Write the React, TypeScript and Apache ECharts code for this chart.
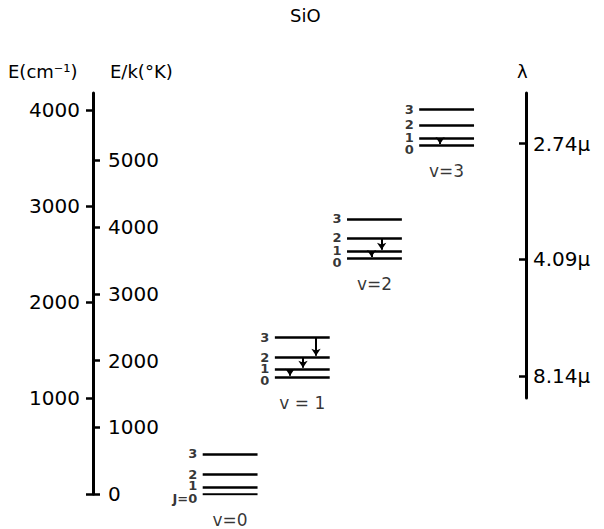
import React, { useEffect, useRef } from "react";
import * as echarts from "echarts";

// ---- data ----
const vibLabels = ["v=0", "v = 1", "v=2", "v=3"];
const jLabels = ["0", "1", "2", "3"];
const levelsV0 = [0, 73, 208, 417];
const levelsV1 = [1219, 1302, 1427, 1635];
const levelsV2 = [2458, 2531, 2667, 2865];
const levelsV3 = [3635, 3708, 3844, 4010];
const levels = [levelsV0, levelsV1, levelsV2, levelsV3];
// transitions: [v, upper J, lower J]
const transitions = [
  [1, 3, 2],
  [1, 2, 1],
  [1, 1, 0],
  [2, 2, 1],
  [2, 1, 0],
  [3, 1, 0],
];
const cmTickValues = [0, 1000, 2000, 3000, 4000];
const cmLabelValues = [1000, 2000, 3000, 4000];
const kelvinValues = [0, 1000, 2000, 3000, 4000, 5000];
const lambdaMicrons = [2.74, 4.09, 8.14];

// ---- layout ----
const CM_TO_K = 1.4388;
const E_MAX = 4177;
const LAMBDA_AXIS_MIN = 1000;
const X_MIN = -1.9;
const X_MAX = 4.1;
const HALF_W = 0.38;
const arrowDx = [0.19, 0.01, -0.17, 0.1, -0.04, -0.09];
const jLabelDy = [4, -1, 0, 0];
const FONT = "DejaVu Sans";

export default function App() {
  const ref = useRef<HTMLDivElement>(null);

  useEffect(() => {
    document.body.style.margin = "0";
    const chart = echarts.init(ref.current!, null, { renderer: "svg" });

    const levelLines: any[] = [];
    const jLabelPts: any[] = [];
    levels.forEach((arr, v) => {
      arr.forEach((e, j) => {
        levelLines.push({ coords: [[v - HALF_W, e], [v + HALF_W, e]] });
        jLabelPts.push({
          value: [v - HALF_W, e],
          name: v === 0 && j === 0 ? "J=" + jLabels[j] : jLabels[j],
          label: { offset: [0, jLabelDy[j]] },
        });
      });
    });
    const arrows = transitions.map(([v, ju, jl], i) => ({
      coords: [
        [v + arrowDx[i], levels[v][ju]],
        [v + arrowDx[i], levels[v][jl] + 12],
      ],
    }));
    const vLabelPts = levels.map((arr, v) => ({ value: [v, arr[0]], name: vibLabels[v] }));

    const axisLineStyle = { color: "#000", width: 3 };
    const labelStyle = { color: "#000", fontSize: 20, fontFamily: FONT };
    const plain = (val: number) => String(Math.round(val));

    chart.setOption({
      animation: false,
      backgroundColor: "#fff",
      textStyle: { fontFamily: FONT },
      grid: [
        { left: 93, right: 604 - 526, top: 93, bottom: 35 },
        { left: 93, right: 604 - 526, top: 93, bottom: 529 - (93 + (E_MAX - LAMBDA_AXIS_MIN) * (401 / E_MAX)) },
      ],
      xAxis: [
        { type: "value", gridIndex: 0, min: X_MIN, max: X_MAX, show: false },
        { type: "value", gridIndex: 1, min: X_MIN, max: X_MAX, show: false },
      ],
      yAxis: [
        {
          type: "value",
          gridIndex: 0,
          position: "left",
          min: 0,
          max: E_MAX,
          axisLine: { show: true, onZero: false, lineStyle: axisLineStyle },
          axisTick: { show: true, length: 7, lineStyle: { color: "#000", width: 2.5 }, customValues: cmTickValues },
          axisLabel: { ...labelStyle, margin: 13, customValues: cmLabelValues, formatter: plain },
          splitLine: { show: false },
        },
        {
          type: "value",
          gridIndex: 0,
          position: "left",
          min: 0,
          max: E_MAX * CM_TO_K,
          axisLine: { show: false, onZero: false },
          axisTick: { show: true, inside: true, length: 7, lineStyle: { color: "#000", width: 2.5 }, customValues: kelvinValues },
          axisLabel: { ...labelStyle, inside: true, margin: 15, customValues: kelvinValues, formatter: plain },
          splitLine: { show: false },
        },
        {
          type: "value",
          gridIndex: 1,
          position: "right",
          min: LAMBDA_AXIS_MIN,
          max: E_MAX,
          axisLine: { show: true, onZero: false, lineStyle: axisLineStyle },
          axisTick: {
            show: true,
            inside: true,
            length: 7,
            lineStyle: { color: "#000", width: 2.5 },
            customValues: lambdaMicrons.map((l) => 10000 / l),
          },
          axisLabel: {
            ...labelStyle,
            margin: 7,
            customValues: lambdaMicrons.map((l) => 10000 / l),
            formatter: (val: number) => (10000 / val).toFixed(2) + "\u03bc",
          },
          splitLine: { show: false },
        },
      ],
      series: [
        {
          type: "lines",
          coordinateSystem: "cartesian2d",
          xAxisIndex: 0,
          yAxisIndex: 0,
          polyline: false,
          symbol: "none",
          lineStyle: { color: "#000", width: 2.5, opacity: 1 },
          data: levelLines,
          silent: true,
        },
        {
          type: "lines",
          coordinateSystem: "cartesian2d",
          xAxisIndex: 0,
          yAxisIndex: 0,
          symbol: ["none", "arrow"],
          symbolSize: 7,
          lineStyle: { color: "#000", width: 2, opacity: 1 },
          data: arrows,
          silent: true,
        },
        {
          type: "scatter",
          xAxisIndex: 0,
          yAxisIndex: 0,
          symbolSize: 1,
          itemStyle: { color: "rgba(0,0,0,0)" },
          data: jLabelPts,
          label: {
            show: true,
            position: "left",
            distance: 5,
            formatter: (p: any) => p.name,
            color: "#000",
            fontSize: 13,
            fontWeight: "bold",
            lineHeight: 10,
            fontFamily: FONT,
          },
          silent: true,
        },
        {
          type: "scatter",
          xAxisIndex: 0,
          yAxisIndex: 0,
          symbolSize: 1,
          itemStyle: { color: "rgba(0,0,0,0)" },
          data: vLabelPts,
          label: {
            show: true,
            position: "bottom",
            distance: 17,
            formatter: (p: any) => p.name,
            color: "#000",
            fontSize: 17,
            fontFamily: FONT,
          },
          silent: true,
        },
      ],
      graphic: [
        { type: "text", left: 307 - 17, top: 6, style: { text: "SiO", fontSize: 18, fontWeight: 500, fontFamily: FONT, fill: "#000" } },
        { type: "text", left: 8, top: 62, style: { text: "E(cm\u207b\u00b9)", fontSize: 18, fontFamily: FONT, fill: "#000" } },
        { type: "text", left: 110, top: 62, style: { text: "E/k(\u00b0K)", fontSize: 18, fontFamily: FONT, fill: "#000" } },
        { type: "text", left: 517, top: 62, style: { text: "\u03bb", fontSize: 18, fontFamily: FONT, fill: "#000" } },
      ],
    });

    return () => chart.dispose();
  }, []);

  return (
    <div
      ref={ref}
      style={{ position: "absolute", left: 0, top: 0, width: 604, height: 529, background: "#fff" }}
    />
  );
}
